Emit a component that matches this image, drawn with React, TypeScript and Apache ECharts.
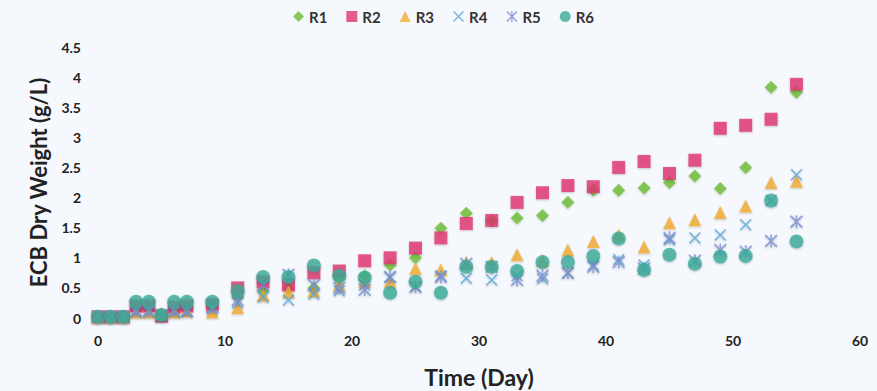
import React, { useEffect, useRef } from "react";
import * as echarts from "echarts";

const days = [0, 1, 2, 3, 4, 5, 6, 7, 9, 11, 13, 15, 17, 19, 21, 23, 25, 27, 29, 31, 33, 35, 37, 39, 41, 43, 45, 47, 49, 51, 53, 55];

const r1 = [0.02, 0.02, 0.02, 0.15, 0.15, 0.05, 0.15, 0.15, 0.2, 0.35, 0.45, 0.5, 0.5, 0.65, 0.7, 0.88, 1.0, 1.49, 1.74, 1.62, 1.66, 1.7, 1.92, 2.12, 2.12, 2.16, 2.25, 2.36, 2.15, 2.5, 3.83, 3.75];
const r2 = [0.02, 0.02, 0.02, 0.2, 0.2, 0.03, 0.18, 0.2, 0.22, 0.5, 0.6, 0.55, 0.75, 0.78, 0.95, 1.0, 1.16, 1.33, 1.57, 1.62, 1.92, 2.08, 2.2, 2.18, 2.5, 2.6, 2.4, 2.62, 3.15, 3.2, 3.3, 3.88];
const r3 = [0.02, 0.02, 0.02, 0.1, 0.1, 0.08, 0.1, 0.12, 0.1, 0.17, 0.38, 0.43, 0.45, 0.55, 0.6, 0.6, 0.82, 0.8, 0.92, 0.92, 1.05, 0.95, 1.13, 1.27, 1.38, 1.18, 1.58, 1.63, 1.75, 1.86, 2.25, 2.27];
const r4 = [0.02, 0.02, 0.02, 0.1, 0.1, 0.05, 0.1, 0.1, 0.15, 0.25, 0.35, 0.3, 0.4, 0.45, 0.55, 0.68, 0.52, 0.7, 0.66, 0.63, 0.7, 0.65, 0.75, 0.88, 0.97, 0.88, 1.3, 1.33, 1.38, 1.55, 1.95, 2.38];
const r5 = [0.02, 0.02, 0.02, 0.12, 0.12, 0.05, 0.12, 0.12, 0.18, 0.3, 0.55, 0.72, 0.55, 0.5, 0.47, 0.68, 0.52, 0.68, 0.9, 0.85, 0.63, 0.7, 0.75, 0.85, 0.93, 0.82, 1.33, 0.95, 1.13, 1.1, 1.28, 1.6];
const r6 = [0.02, 0.02, 0.02, 0.27, 0.27, 0.05, 0.27, 0.27, 0.27, 0.45, 0.68, 0.68, 0.87, 0.7, 0.67, 0.42, 0.6, 0.42, 0.85, 0.85, 0.78, 0.93, 0.93, 1.03, 1.32, 0.8, 1.05, 0.9, 1.02, 1.03, 1.95, 1.27];

const seriesNames = ["R1", "R2", "R3", "R4", "R5", "R6"];
const seriesValues = [r1, r2, r3, r4, r5, r6];

const X_PATH = "path://M1,0 L5,4 L9,0 L10,1 L6,5 L10,9 L9,10 L5,6 L1,10 L0,9 L4,5 L0,1 Z";
const STAR_PATH =
  "path://M1,0 L5,4 L9,0 L10,1 L6,5 L10,9 L9,10 L5,6 L1,10 L0,9 L4,5 L0,1 Z M4.4,0 L5.6,0 L5.6,10 L4.4,10 Z";

const styles = [
  { symbol: "diamond", size: 13, color: "#6cbd34" },
  { symbol: "rect", size: 13, color: "#e0336e" },
  { symbol: "triangle", size: 13, color: "#f2aa2e" },
  { symbol: X_PATH, size: 12, color: "#5aa9d9" },
  { symbol: STAR_PATH, size: 13, color: "#7b8fd2" },
  { symbol: "circle", size: 14, color: "#3cab98" },
];

const FONT = "Lato, 'Open Sans', sans-serif";

export default function App() {
  const ref = useRef<HTMLDivElement>(null);
  useEffect(() => {
    if (!ref.current) return;
    const chart = echarts.init(ref.current, undefined, { renderer: "svg" });
    chart.setOption({
      animation: false,
      backgroundColor: "#f5f8fc",
      textStyle: { fontFamily: FONT },
      legend: {
        left: 288,
        top: 4,
        itemWidth: 11,
        itemHeight: 11,
        itemGap: 19,
        textStyle: { fontFamily: FONT, fontSize: 15, fontWeight: "bold", color: "#333" },
        data: seriesNames,
      },
      grid: { left: 98, right: 17, top: 47, bottom: 73, containLabel: false, outerBoundsMode: "none" },
      xAxis: {
        type: "value",
        min: 0,
        max: 60,
        interval: 10,
        name: "Time (Day)",
        nameLocation: "middle",
        nameGap: 47,
        nameTextStyle: { fontFamily: FONT, fontSize: 23, fontWeight: "bold", color: "#222" },
        axisLine: { show: false },
        axisTick: { show: false },
        splitLine: { show: false },
        axisLabel: { margin: 15, fontFamily: FONT, fontSize: 14, fontWeight: "bold", color: "#222" },
      },
      yAxis: {
        type: "value",
        min: 0,
        max: 4.5,
        interval: 0.5,
        name: "ECB Dry Weight (g/L)",
        nameLocation: "middle",
        nameGap: 49,
        nameTextStyle: { fontFamily: FONT, fontSize: 22, fontWeight: "bold", color: "#222" },
        axisLine: { show: false },
        axisTick: { show: false },
        splitLine: { show: false },
        axisLabel: { margin: 17, fontFamily: FONT, fontSize: 14, fontWeight: "bold", color: "#222" },
      },
      series: seriesNames.map((name, i) => ({
        name,
        type: "scatter",
        symbol: styles[i].symbol,
        symbolSize: styles[i].size,
        itemStyle: {
          color: styles[i].color,
          shadowBlur: 2,
          shadowColor: "rgba(0,0,0,0.25)",
          shadowOffsetY: 1,
        },
        data: days.map((d, j) => [d, seriesValues[i][j]]),
      })),
    });
    return () => chart.dispose();
  }, []);
  return (
    <div
      ref={ref}
      style={{ position: "absolute", left: 0, top: 0, width: 877, height: 391 }}
    />
  );
}
